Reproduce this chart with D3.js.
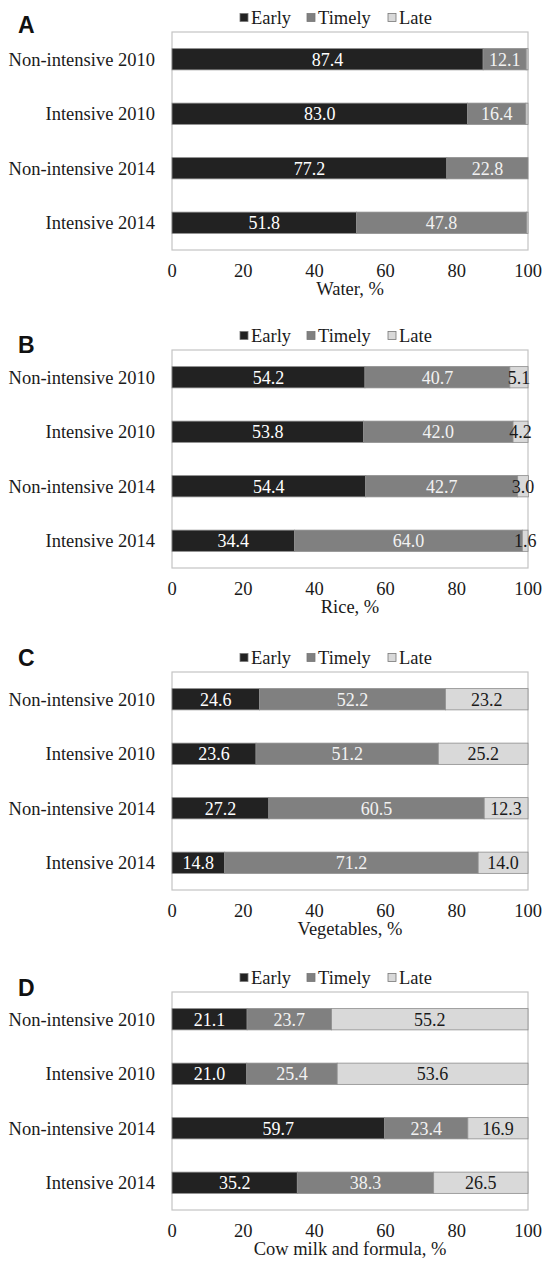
<!DOCTYPE html>
<html>
<head>
<meta charset="utf-8">
<script src="https://cdn.jsdelivr.net/npm/d3@7"></script>
<style>
  body { margin: 0; background: #fff; }
</style>
</head>
<body>
<div id="chart"></div>
<script>
var groups = ["Non-intensive 2010", "Intensive 2010", "Non-intensive 2014", "Intensive 2014"];
var stages = ["Early", "Timely", "Late"];
var ticks = [0, 20, 40, 60, 80, 100];

var panelLetters = ["A", "B", "C", "D"];
var panelTitles = ["Water, %", "Rice, %", "Vegetables, %", "Cow milk and formula, %"];

// values per panel, per stage
var waterEarly = [87.4, 83.0, 77.2, 51.8];
var waterTimely = [12.1, 16.4, 22.8, 47.8];
var waterLate = [0.5, 0.6, 0.0, 0.4];

var riceEarly = [54.2, 53.8, 54.4, 34.4];
var riceTimely = [40.7, 42.0, 42.7, 64.0];
var riceLate = [5.1, 4.2, 3.0, 1.6];

var vegEarly = [24.6, 23.6, 27.2, 14.8];
var vegTimely = [52.2, 51.2, 60.5, 71.2];
var vegLate = [23.2, 25.2, 12.3, 14.0];

var milkEarly = [21.1, 21.0, 59.7, 35.2];
var milkTimely = [23.7, 25.4, 23.4, 38.3];
var milkLate = [55.2, 53.6, 16.9, 26.5];

var panelData = [
  [waterEarly, waterTimely, waterLate],
  [riceEarly, riceTimely, riceLate],
  [vegEarly, vegTimely, vegLate],
  [milkEarly, milkTimely, milkLate]
];

var stageColors = d3.scaleOrdinal().domain(stages).range(["#222222", "#808080", "#d9d9d9"]);
var labelColors = d3.scaleOrdinal().domain(stages).range(["#ffffff", "#f2f2f2", "#1a1a1a"]);

var serif = "'Liberation Serif', Tinos, 'Times New Roman', Times, 'DejaVu Serif', serif";
var sans = "'Liberation Sans', Arial, sans-serif";

var W = 544, H = 1262;
var boxTops = [32, 350, 672, 992];
var letterOffsets = [-7, -5, -14, -4];
var boxH = 218;
var left = 172, right = 528;

var svg = d3.select("#chart").append("svg")
  .attr("width", W)
  .attr("height", H)
  .style("font-family", serif);

var x = d3.scaleLinear().domain([0, 100]).range([left, right]);

panelData.forEach(function (series, p) {
  var top = boxTops[p];
  var g = svg.append("g");

  var y = d3.scaleBand()
    .domain(groups)
    .range([top, top + boxH])
    .paddingInner(0.61)
    .paddingOuter(0.305);

  // plot frame
  g.append("rect")
    .attr("x", x(0))
    .attr("y", top)
    .attr("width", x(100) - x(0))
    .attr("height", boxH)
    .attr("fill", "none")
    .attr("stroke", "#c4c4c4")
    .attr("stroke-width", 1.2);

  // build stacked rows
  var rows = groups.map(function (grp, i) {
    var row = { group: grp };
    stages.forEach(function (s, k) { row[s] = series[k][i]; });
    return row;
  });
  var stacked = d3.stack().keys(stages)(rows);

  var layer = g.selectAll(".layer")
    .data(stacked)
    .enter()
    .append("g")
    .attr("class", "layer");

  layer.selectAll("rect")
    .data(function (d) { return d.map(function (v) { return { key: d.key, v: v }; }); })
    .enter()
    .append("rect")
    .attr("x", function (d) { return x(d.v[0]); })
    .attr("y", function (d) { return y(d.v.data.group); })
    .attr("width", function (d) { return x(d.v[1]) - x(d.v[0]); })
    .attr("height", y.bandwidth())
    .attr("fill", function (d) { return stageColors(d.key); })
    .attr("stroke", "#8c8c8c")
    .attr("stroke-width", 0.8);

  layer.selectAll("text")
    .data(function (d) {
      return d.map(function (v) { return { key: d.key, v: v }; })
        .filter(function (e) { return e.v[1] - e.v[0] >= 1; });
    })
    .enter()
    .append("text")
    .attr("x", function (d) { return x((d.v[0] + d.v[1]) / 2); })
    .attr("y", function (d) { return y(d.v.data.group) + y.bandwidth() / 2; })
    .attr("dy", "0.35em")
    .attr("text-anchor", "middle")
    .style("font-size", "18px")
    .attr("fill", function (d) { return labelColors(d.key); })
    .text(function (d) { return (d.v[1] - d.v[0]).toFixed(1); });

  // category labels
  g.selectAll(".cat")
    .data(groups)
    .enter()
    .append("text")
    .attr("class", "cat")
    .attr("x", 155)
    .attr("y", function (d) { return y(d) + y.bandwidth() / 2; })
    .attr("dy", "0.35em")
    .attr("text-anchor", "end")
    .style("font-size", "18.5px")
    .attr("fill", "#1a1a1a")
    .text(function (d) { return d; });

  // x tick labels
  g.selectAll(".tick")
    .data(ticks)
    .enter()
    .append("text")
    .attr("class", "tick")
    .attr("x", function (d) { return x(d); })
    .attr("y", top + boxH + 21)
    .attr("dy", "0.35em")
    .attr("text-anchor", "middle")
    .style("font-size", "18.5px")
    .attr("fill", "#1a1a1a")
    .text(function (d) { return d; });

  // axis title
  g.append("text")
    .attr("x", (left + right) / 2)
    .attr("y", top + boxH + 39)
    .attr("dy", "0.35em")
    .attr("text-anchor", "middle")
    .style("font-size", "18.5px")
    .attr("fill", "#1a1a1a")
    .text(panelTitles[p]);

  // panel letter
  g.append("text")
    .attr("x", 18)
    .attr("y", top + letterOffsets[p])
    .attr("dy", "0.35em")
    .style("font-family", sans)
    .style("font-weight", "bold")
    .style("font-size", "23px")
    .attr("fill", "#111")
    .text(panelLetters[p]);

  // legend
  var legendX = [240, 307, 388];
  var lg = g.selectAll(".legend")
    .data(stages)
    .enter()
    .append("g")
    .attr("class", "legend")
    .attr("transform", function (d, i) {
      return "translate(" + legendX[i] + "," + (top - 14) + ")";
    });
  lg.append("rect")
    .attr("x", 0)
    .attr("y", -4.5)
    .attr("width", 8)
    .attr("height", 8)
    .attr("fill", function (d) { return stageColors(d); })
    .attr("stroke", "#777")
    .attr("stroke-width", 0.8);
  lg.append("text")
    .attr("x", 11)
    .attr("y", 0)
    .attr("dy", "0.35em")
    .style("font-size", "18.5px")
    .attr("fill", "#1a1a1a")
    .text(function (d) { return d; });
});
</script>
</body>
</html>
